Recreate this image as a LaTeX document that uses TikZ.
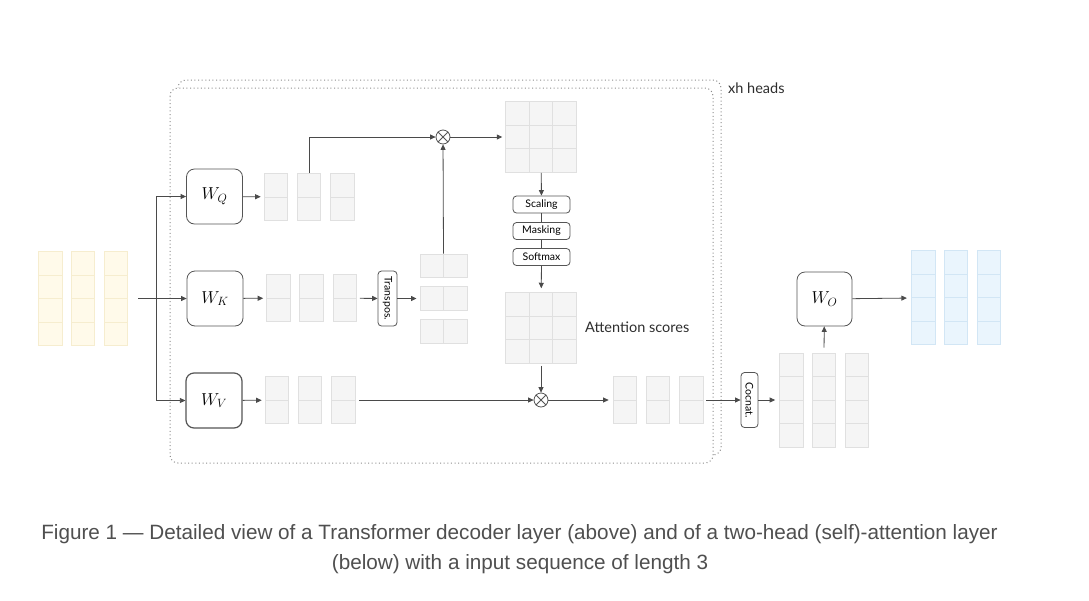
\documentclass[tikz,border=0pt]{standalone}
\usepackage{fontspec}
\newfontfamily\capfont{Liberation Sans}
\newfontfamily\gill{Lato}
\usetikzlibrary{arrows.meta,calc}
\definecolor{lc}{HTML}{4A4A4A}
\definecolor{bc}{HTML}{555555}
\definecolor{gl}{HTML}{E0E0E0}
\definecolor{gf}{HTML}{F5F5F5}
\definecolor{yl}{HTML}{F6EDCF}
\definecolor{yf}{HTML}{FFFAEA}
\definecolor{bl}{HTML}{D2E6F5}
\definecolor{bf}{HTML}{EAF5FD}
\definecolor{dc}{HTML}{8C8C8C}
\definecolor{tc}{HTML}{2E2E2E}
\definecolor{cc}{HTML}{4F4F4F}
\begin{document}
\begin{tikzpicture}[x=1pt,y=-1pt,
  every node/.style={inner sep=0pt},
  ln/.style={draw=lc, line width=0.8pt},
  arr/.style={ln, -{Triangle[length=5.5pt,width=5pt]}},
  wbox/.style={draw=bc, line width=0.8pt, rounded corners=8pt, minimum width=56pt, minimum height=55pt, font=\fontsize{17.5}{20}\selectfont},
  opbox/.style={draw=bc, line width=0.8pt, rounded corners=3.5pt, minimum width=57pt, minimum height=17pt, font=\gill\fontsize{10.5}{12}\selectfont},
  rotbox/.style={opbox, rotate=-90, minimum width=55pt},
  otimes/.style={circle, draw=bc, line width=0.8pt, fill=white, minimum size=14pt},
  vm/.style={inner sep=0pt, row sep=-0.6pt, column sep=9pt},
  gcell/.style={nodes={draw=gl, fill=gf, line width=0.6pt, minimum width=23.5pt, minimum height=23.5pt, inner sep=0pt}},
  ycell/.style={nodes={draw=yl, fill=yf, line width=0.6pt, minimum width=23.5pt, minimum height=23.5pt, inner sep=0pt}},
  bcell/.style={nodes={draw=bl, fill=bf, line width=0.6pt, minimum width=23.5pt, minimum height=23.5pt, inner sep=0pt}},
  headsb/.style={draw=dc, line width=1pt, dash pattern=on 1pt off 2.6pt, rounded corners=8pt},
  lbl/.style={font=\gill\fontsize{14.5}{16}\selectfont, text=tc, anchor=west},
  captext/.style={font=\capfont\fontsize{20.7}{24}\selectfont, text=cc}
]
\fill[white] (0,0) rectangle (1089,600);
\useasboundingbox (0,0) rectangle (1089,600);

% heads frames
\draw[headsb] (178,80) rectangle (721,455);
\draw[headsb, fill=white] (170,88) rectangle (713,463);
\node[lbl] (heads) at (728,88) {xh heads};

% input vectors
\matrix (inp) [vm, ycell, column sep=8.75pt] at (83,298.5) {
 \node{}; & \node{}; & \node{}; \\
 \node{}; & \node{}; & \node{}; \\
 \node{}; & \node{}; & \node{}; \\
 \node{}; & \node{}; & \node{}; \\
};

% weight boxes
\node[wbox] (wq) at (214.5,196.5) {$W_Q$};
\node[wbox] (wk) at (215,298.5) {$W_K$};
\node[wbox, line width=1.2pt] (wv) at (214,400.5) {$W_V$};

% Q, K, V vectors
\matrix (qv) [vm, gcell] at (309,197) {
 \node{}; & \node (qvm) {}; & \node{}; \\
 \node{}; & \node{}; & \node{}; \\
};
\matrix (kv) [vm, gcell] at (311.5,298) {
 \node{}; & \node{}; & \node{}; \\
 \node{}; & \node{}; & \node{}; \\
};
\matrix (vv) [vm, gcell] at (310,400) {
 \node{}; & \node{}; & \node{}; \\
 \node{}; & \node{}; & \node{}; \\
};

% transpose
\node[rotbox, minimum height=19pt] (tr) at (387.5,298.5) {Transpos.};
\matrix (kt) [vm, gcell, row sep=8.5pt, column sep=-0.6pt] at (443.5,298.5) {
 \node{}; & \node{}; \\
 \node{}; & \node{}; \\
 \node{}; & \node{}; \\
};

% multiplications
\node[otimes] (m1) at (443,137) {};
\draw[draw=bc, line width=0.8pt] (m1.north east) -- (m1.south west) (m1.north west) -- (m1.south east);
\node[otimes] (m2) at (541,400) {};
\draw[draw=bc, line width=0.8pt] (m2.north east) -- (m2.south west) (m2.north west) -- (m2.south east);

% score matrices
\matrix (qk) [vm, gcell, column sep=-0.6pt] at (541,137) {
 \node{}; & \node{}; & \node{}; \\
 \node{}; & \node{}; & \node{}; \\
 \node{}; & \node{}; & \node{}; \\
};
\matrix (att) [vm, gcell, column sep=-0.6pt] at (541,328) {
 \node{}; & \node{}; & \node{}; \\
 \node{}; & \node{}; & \node{}; \\
 \node{}; & \node{}; & \node{}; \\
};
\node[lbl] (asc) at (585,327) {Attention scores};

% ops
\node[opbox] (sc) at (541.5,204.5) {Scaling};
\node[opbox] (mk) at (541.5,231) {Masking};
\node[opbox] (sm) at (541.5,257) {Softmax};

% head output
\matrix (ov) [vm, gcell] at (658,400) {
 \node{}; & \node{}; & \node{}; \\
 \node{}; & \node{}; & \node{}; \\
};

% concat and output
\node[rotbox] (cn) at (749.5,400) {Cocnat.};
\matrix (cv) [vm, gcell, column sep=8.5pt] at (824,400) {
 \node{}; & \node (cvm) {}; & \node{}; \\
 \node{}; & \node{}; & \node{}; \\
 \node{}; & \node{}; & \node{}; \\
 \node{}; & \node{}; & \node{}; \\
};
\node[wbox, minimum width=55pt, minimum height=54pt] (wo) at (824.5,299) {$W_O$};
\matrix (outv) [vm, bcell, column sep=8.75pt] at (956,297.5) {
 \node{}; & \node{}; & \node{}; \\
 \node{}; & \node{}; & \node{}; \\
 \node{}; & \node{}; & \node{}; \\
 \node{}; & \node{}; & \node{}; \\
};

% connectors
\coordinate (split) at (156,298);
\draw[arr] ([xshift=10pt]inp.east) -- (wk);
\draw[arr] (split) |- (wq);
\draw[arr] (split) |- (wv);
\draw[arr, shorten >=3pt] (wq) -- (qv);
\draw[arr, shorten >=3pt] (wk) -- (kv);
\draw[arr, shorten >=3pt] (wv) -- (vv);
\draw[arr, shorten <=3pt] (kv) -- (tr);
\draw[arr, shorten >=3pt] (tr) -- (kt);
\draw[arr] (qvm.north) |- (m1);
\draw[arr] (kt.north) -- (m1);
\draw[arr, shorten >=3pt] (m1) -- (qk);
\draw[arr] (qk) -- (sc);
\draw[ln] (sc) -- (mk);
\draw[ln] (mk) -- (sm);
\draw[arr, shorten >=4pt] (sm) -- (att);
\draw[arr, shorten <=2pt] (att) -- (m2);
\draw[arr, shorten <=4pt] (vv) -- (m2);
\draw[arr, shorten >=4pt] (m2) -- (ov);
\draw[arr, shorten <=3pt] (ov) -- (cn);
\draw[arr, shorten >=4pt] (cn) -- (cv);
\draw[arr, shorten <=5pt] (cvm.north) -- (wo);
\draw[arr, shorten >=4pt] (wo) -- (outv);

% caption
\node[captext] (cap1) at (519.5,534) {Figure 1 — Detailed view of a Transformer decoder layer (above) and of a two-head (self)-attention layer};
\node[captext] (cap2) at (520,564) {(below) with a input sequence of length 3};
\end{tikzpicture}
\end{document}
